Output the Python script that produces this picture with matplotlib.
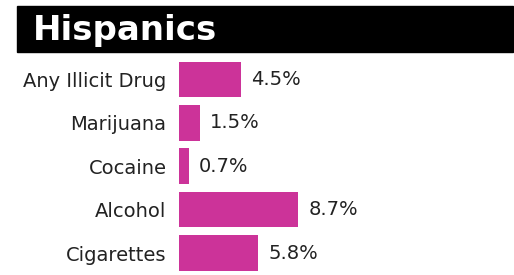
import matplotlib.pyplot as plt
from matplotlib.patches import Rectangle

# Data
title = "Hispanics"
categories = ["Any Illicit Drug", "Marijuana", "Cocaine", "Alcohol", "Cigarettes"]
values = [4.5, 1.5, 0.7, 8.7, 5.8]
value_labels = ["4.5%", "1.5%", "0.7%", "8.7%", "5.8%"]

W, H = 514, 275
fig = plt.figure(figsize=(W / 100, H / 100), dpi=100)

# black header band
fig.patches.append(Rectangle((17 / W, 1 - 52 / H), 496 / W, 46 / H,
                             transform=fig.transFigure, color="black", zorder=0))
fig.text(33 / W, 1 - 40 / H, title, color="white", fontsize=24.5,
         fontweight="bold", family="DejaVu Sans", va="baseline", ha="left")

# bars: 13.7 px per percent, starting at x=179 px
left = 179
ax_w = W - left
ax = fig.add_axes([left / W, 1 - 274.7 / H, ax_w / W, 216.9 / H])
ax.set_xlim(0, ax_w / 13.7)
ax.set_ylim(4.5, -0.5)

pos = list(range(len(categories)))
ax.barh(pos, values, height=0.82, color="#cc3399")

for p, v, lab in zip(pos, values, value_labels):
    ax.annotate(lab, (v, p), xytext=(10, 0), textcoords="offset pixels",
                va="center", ha="left", fontsize=14, color="#222222")

ax.set_yticks(pos)
ax.set_yticklabels(categories, fontsize=14, color="#222222")
ax.tick_params(axis="y", length=0, pad=9)
ax.set_xticks([])
for s in ax.spines.values():
    s.set_visible(False)
ax.patch.set_alpha(0)

fig.savefig("out.png", dpi=100)
